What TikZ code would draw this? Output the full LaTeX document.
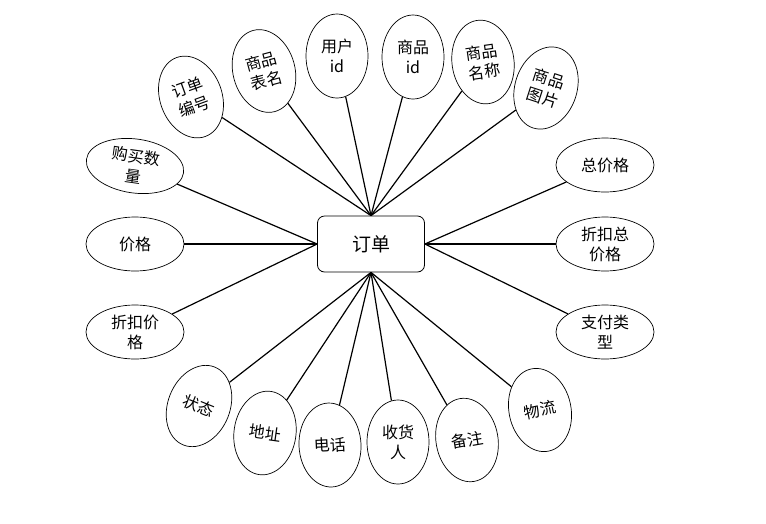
\documentclass[tikz,border=0pt]{standalone}
\usepackage{fontspec}
\setmainfont{Noto Sans CJK SC}
\usetikzlibrary{shapes.geometric}

\begin{document}
\begin{tikzpicture}[
  x=1pt,y=-1pt,
  ent/.style={rectangle,draw,line width=0.8pt,rounded corners=7pt,minimum width=107pt,minimum height=56pt,font=\fontsize{19}{21}\selectfont},
  att/.style={ellipse,draw,line width=0.7pt,inner sep=0pt,minimum width=62pt,minimum height=84pt,align=center,font=\fontsize{16}{20}\selectfont},
  satt/.style={att,minimum width=98pt,minimum height=54pt},
  lnk/.style={line width=1.2pt}
]
\useasboundingbox (0,0) rectangle (766,523);

\node[ent] (dd) at (371,244) {订单};

% top
\node[att,rotate=20] (ddbh) at (191,97) {订单\\编号};
\node[att,rotate=15] (spbm) at (264,71) {商品\\表名};
\node[att] (yhid) at (337,56) {用户\\id};
\node[att] (spid) at (413,57) {商品\\id};
\node[att,rotate=8] (spmc) at (483,62) {商品\\名称};
\node[att,rotate=-18] (sptp) at (546,88) {商品\\图片};

% left and right
\node[satt,rotate=-8] (gmsl) at (135,166) {购买数\\量};
\node[satt] (jg) at (135,244) {价格};
\node[satt] (zkjg) at (135,332) {折扣价\\格};
\node[satt] (zjg) at (605,165) {总价格};
\node[satt] (zkzjg) at (605,244) {折扣总\\价格};
\node[satt] (zflx) at (605,332) {支付类\\型};

% bottom
\node[att,rotate=-22] (zt) at (199,406) {状态};
\node[att,rotate=-8] (dz) at (265,433) {地址};
\node[att,rotate=3] (dh) at (330,445) {电话};
\node[att] (shr) at (398,442) {收货\\人};
\node[att,rotate=10] (bz) at (467,440) {备注};
\node[att,rotate=12] (wl) at (540,410) {物流};

\foreach \a in {ddbh,spbm,yhid,spid,spmc,sptp}
  \draw[lnk] (dd.north) -- (\a);
\foreach \a in {gmsl,jg,zkjg}
  \draw[lnk] (dd.west) -- (\a);
\foreach \a in {zjg,zkzjg,zflx}
  \draw[lnk] (dd.east) -- (\a);
\foreach \a in {zt,dz,dh,shr,bz,wl}
  \draw[lnk] (dd.south) -- (\a);
\end{tikzpicture}
\end{document}
